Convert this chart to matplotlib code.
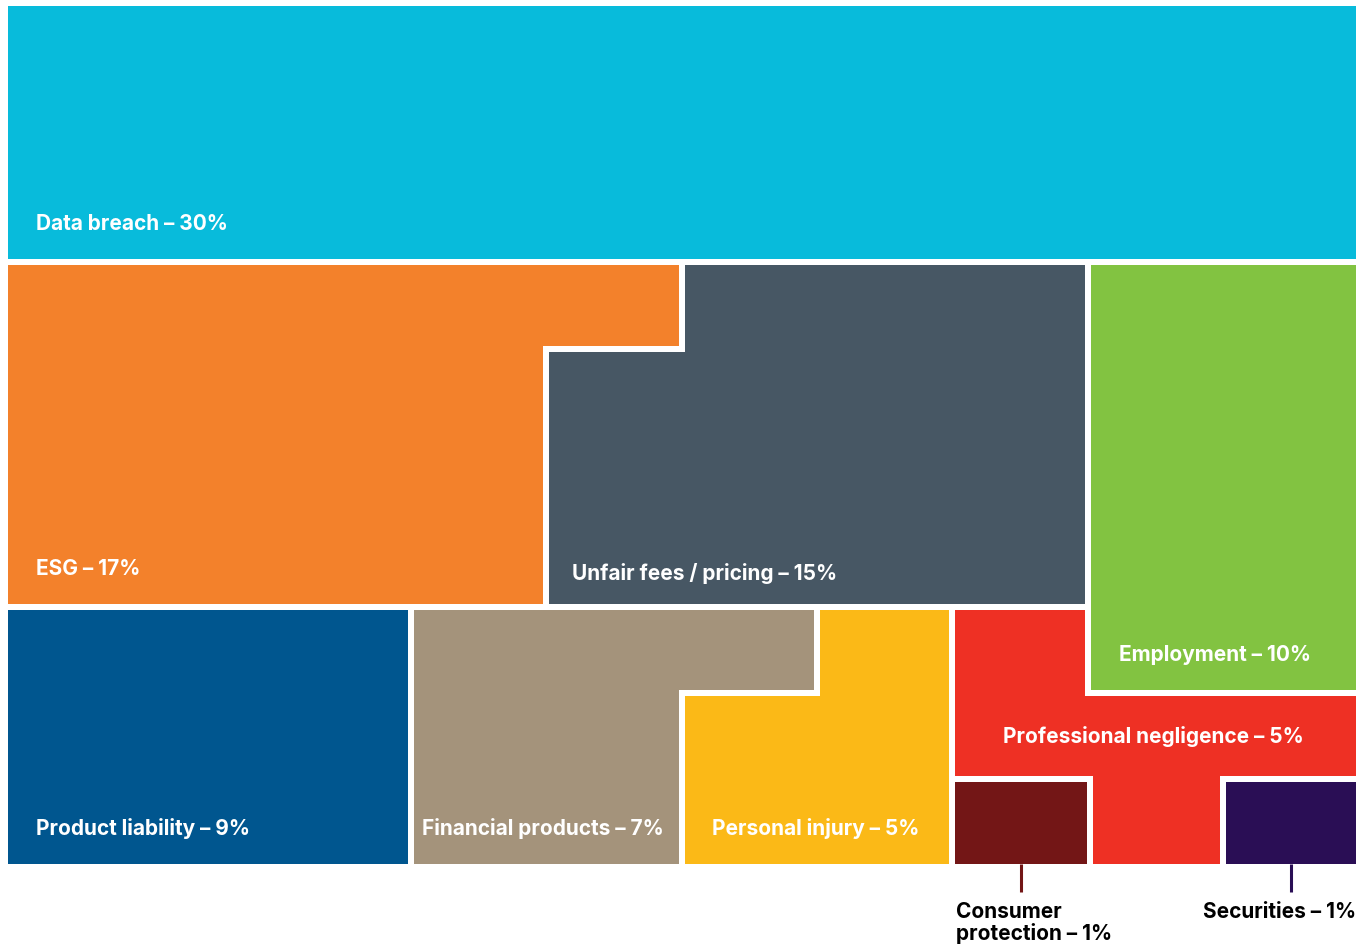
"""Treemap of claim categories drawn as interlocking blocks."""
import matplotlib
matplotlib.use("Agg")
import matplotlib.pyplot as plt
from matplotlib.patches import Polygon

# data
categories = [
    "Data breach", "ESG", "Unfair fees / pricing", "Employment",
    "Product liability", "Financial products", "Personal injury",
    "Professional negligence", "Consumer protection", "Securities",
]
shares = [30, 17, 15, 10, 9, 7, 5, 5, 1, 1]

colors = [
    "#08BBDB", "#F3812B", "#475764", "#82C341", "#00568F",
    "#A4937B", "#FBB917", "#EE3024", "#731616", "#2A0E55",
]

# layout cuts (pixel space, centred on the white gaps)
X0, XA, XB, XC, XD, XE, XF, XF2, XG, X1 = 5, 411.5, 546, 682, 817.5, 952, 1088, 1090, 1223, 1359
Y0, YA, YB, YC, YD, YE, Y1 = 3, 262, 349, 607, 693, 779, 867

shapes = [
    [(X0, Y0), (X1, Y0), (X1, YA), (X0, YA)],
    [(X0, YA), (XC, YA), (XC, YB), (XB, YB), (XB, YC), (X0, YC)],
    [(XC, YA), (XF, YA), (XF, YC), (XB, YC), (XB, YB), (XC, YB)],
    [(XF, YA), (X1, YA), (X1, YD), (XF, YD)],
    [(X0, YC), (XA, YC), (XA, Y1), (X0, Y1)],
    [(XA, YC), (XD, YC), (XD, YD), (XC, YD), (XC, Y1), (XA, Y1)],
    [(XD, YC), (XE, YC), (XE, Y1), (XC, Y1), (XC, YD), (XD, YD)],
    [(XE, YC), (XF, YC), (XF, YD), (X1, YD), (X1, YE), (XG, YE),
     (XG, Y1), (XF2, Y1), (XF2, YE), (XE, YE)],
    [(XE, YE), (XF2, YE), (XF2, Y1), (XE, Y1)],
    [(XG, YE), (X1, YE), (X1, Y1), (XG, Y1)],
]

# label anchors (left x, baseline y); None -> label sits below the block
label_pos = [
    (36, 230), (36, 575), (572, 580), (1119, 661), (36, 835),
    (422, 835), (712, 835), (1003, 743), None, None,
]

FONT = ["Inter", "DejaVu Sans"]
FS = 15

fig = plt.figure(figsize=(13.7, 9.44), dpi=100)
ax = fig.add_axes([0, 0, 1, 1])
ax.set_xlim(0, 1370)
ax.set_ylim(944, 0)
ax.axis("off")

gap = 6 * 72 / fig.dpi
for name, share, col, verts, pos in zip(categories, shares, colors, shapes, label_pos):
    ax.add_patch(Polygon(verts, closed=True, facecolor=col, edgecolor="white",
                         linewidth=gap, joinstyle="miter"))
    if pos is not None:
        ax.text(pos[0], pos[1], f"{name} \u2013 {share}%", color="white",
                fontsize=FS, fontweight="bold", family=FONT,
                ha="left", va="baseline")

# small blocks get a leader line and an outside label
cons_x = (XE + XF2) / 2
sec_x = (XG + X1) / 2
ax.plot([cons_x, cons_x], [Y1 - 3, 892], color=colors[8], lw=2.2, solid_capstyle="butt")
ax.plot([sec_x, sec_x], [Y1 - 3, 892], color=colors[9], lw=2.2, solid_capstyle="butt")
ax.text(956, 918, "Consumer", color="black",
        fontsize=FS, fontweight="bold", family=FONT, ha="left", va="baseline")
ax.text(956, 940, f"protection \u2013 {shares[8]}%", color="black",
        fontsize=FS, fontweight="bold", family=FONT, ha="left", va="baseline")
ax.text(X1 - 3, 918, f"{categories[9]} \u2013 {shares[9]}%", color="black",
        fontsize=FS, fontweight="bold", family=FONT, ha="right", va="baseline")

fig.savefig("out.png", dpi=100)
